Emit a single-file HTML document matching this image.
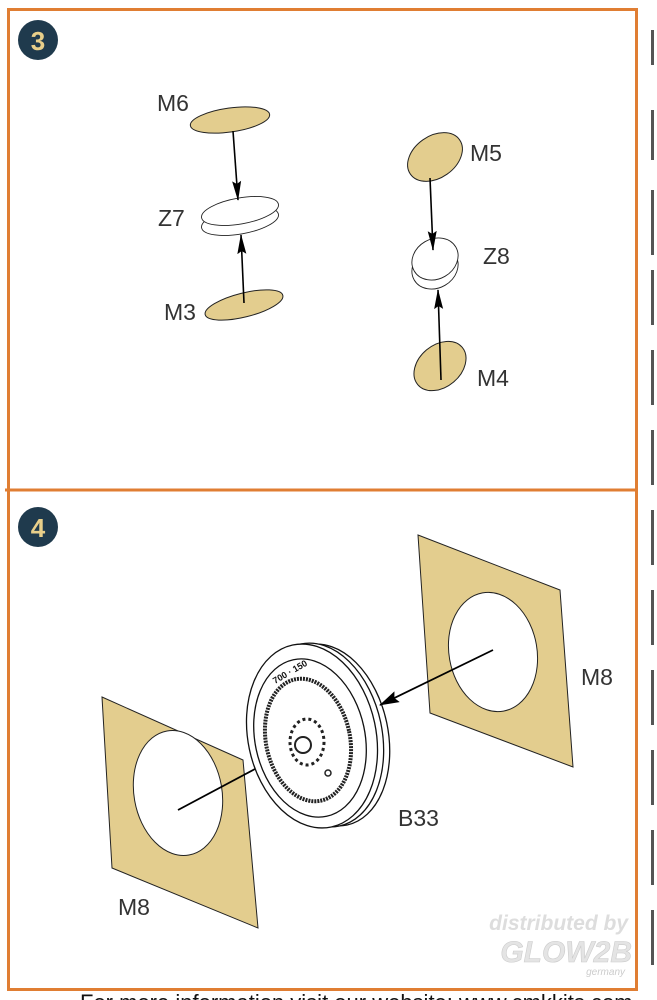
<!DOCTYPE html>
<html><head><style>
html,body{margin:0;padding:0;background:#fff;width:657px;height:1000px;overflow:hidden;}
svg{display:block;}
text{font-family:"Liberation Sans Narrow","Liberation Sans",sans-serif;}
</style></head><body>
<svg width="657" height="1000" viewBox="0 0 657 1000">
<defs>
<marker id="ah" markerWidth="20" markerHeight="10" refX="19" refY="5" orient="auto" markerUnits="userSpaceOnUse">
<path d="M0,0.5 L20,5 L0,9.5 L3,5 Z" fill="#000"/></marker>
<marker id="ah2" markerWidth="20" markerHeight="12" refX="19" refY="6" orient="auto" markerUnits="userSpaceOnUse">
<path d="M0,0 L20,6 L0,12 L3,6 Z" fill="#000"/></marker>
</defs>
<g fill="#555">
<rect x="651" y="30" width="3" height="35"/><rect x="651" y="110" width="3" height="50"/>
<rect x="651" y="190" width="3" height="65"/><rect x="651" y="270" width="3" height="55"/>
<rect x="651" y="350" width="3" height="55"/><rect x="651" y="430" width="3" height="55"/>
<rect x="651" y="510" width="3" height="55"/><rect x="651" y="590" width="3" height="55"/>
<rect x="651" y="670" width="3" height="55"/><rect x="651" y="750" width="3" height="55"/>
<rect x="651" y="830" width="3" height="55"/><rect x="651" y="910" width="3" height="55"/>
</g>
<rect x="8.5" y="9.5" width="628" height="980" fill="none" stroke="#e07e33" stroke-width="3"/>
<line x1="5" y1="490" x2="636" y2="490" stroke="#e07e33" stroke-width="3"/>
<circle cx="38" cy="40" r="20" fill="#1f3a4d"/>
<text x="38" y="50" font-size="26" font-weight="bold" fill="#e8cf8a" text-anchor="middle">3</text>
<circle cx="38" cy="527" r="20" fill="#1f3a4d"/>
<text x="38" y="537" font-size="26" font-weight="bold" fill="#e8cf8a" text-anchor="middle">4</text>

<g stroke="#222" stroke-width="1" fill="#e3cd8e">
<ellipse cx="230" cy="120" rx="40" ry="12" transform="rotate(-8 230 120)"/>
<ellipse cx="435" cy="157" rx="30" ry="21" transform="rotate(-35 435 157)"/>
<ellipse cx="244" cy="305" rx="40" ry="12" transform="rotate(-14 244 305)"/>
<ellipse cx="440" cy="366" rx="29" ry="21" transform="rotate(-40 440 366)"/>
</g>
<g stroke="#222" stroke-width="0.9" fill="#fff">
<ellipse cx="240" cy="221" rx="39" ry="13" transform="rotate(-10 240 221)"/>
<ellipse cx="240" cy="211" rx="39" ry="13" transform="rotate(-10 240 211)"/>
<ellipse cx="348" cy="0" rx="0" ry="0"/>
<ellipse cx="348" cy="268" rx="0" ry="0"/>
<ellipse cx="348" cy="0" rx="0" ry="0"/>
<ellipse cx="348" cy="0" rx="0" ry="0"/>
<ellipse cx="348" cy="0" rx="0" ry="0"/>
<ellipse cx="348" cy="0" rx="0" ry="0"/>
<ellipse cx="348" cy="0" rx="0" ry="0"/>
<ellipse cx="435" cy="268" rx="24" ry="20" transform="rotate(-30 435 268)"/>
<ellipse cx="435" cy="259" rx="24" ry="20" transform="rotate(-30 435 259)"/>
</g>
<g stroke="#000" stroke-width="1.6">
<line x1="233" y1="131" x2="238" y2="200" marker-end="url(#ah)"/>
<line x1="244" y1="303" x2="241" y2="235" marker-end="url(#ah)"/>
<line x1="430" y1="178" x2="433" y2="250" marker-end="url(#ah)"/>
<line x1="441" y1="380" x2="438" y2="290" marker-end="url(#ah)"/>
</g>
<g font-size="23" fill="#333">
<text x="157" y="111">M6</text><text x="470" y="161">M5</text>
<text x="158" y="226">Z7</text><text x="483" y="264">Z8</text>
<text x="164" y="320">M3</text><text x="477" y="386">M4</text>
</g>

<path d="M418,535 L560,590 L573,767 L430,713 Z" fill="#e3cd8e" stroke="#222" stroke-width="1"/>
<ellipse cx="493" cy="652" rx="44" ry="60" transform="rotate(-10 493 652)" fill="#fff" stroke="#222" stroke-width="1"/>
<path d="M102,697 L243,760 L258,928 L112,868 Z" fill="#e3cd8e" stroke="#222" stroke-width="1"/>
<ellipse cx="178" cy="793" rx="44" ry="63" transform="rotate(-10 178 793)" fill="#fff" stroke="#222" stroke-width="1"/>
<line x1="178" y1="810" x2="300" y2="745" stroke="#000" stroke-width="1.8" marker-end="url(#ah2)"/>

<g fill="#fff" stroke="#111" stroke-width="1.3">
<ellipse cx="328" cy="735" rx="60" ry="92" transform="rotate(-12 328 735)"/>
<ellipse cx="320" cy="735" rx="62" ry="93" transform="rotate(-12 320 735)"/>
<ellipse cx="312" cy="736" rx="64" ry="93" transform="rotate(-12 312 736)"/>
<ellipse cx="310" cy="738" rx="55" ry="80" transform="rotate(-12 310 738)" fill="none"/>
</g>
<ellipse cx="308" cy="740" rx="42" ry="62" transform="rotate(-12 308 740)" fill="none" stroke="#222" stroke-width="4" stroke-dasharray="2 1"/>
<ellipse cx="307" cy="742" rx="17" ry="23" fill="none" stroke="#222" stroke-width="3" stroke-dasharray="3 3"/>
<circle cx="303" cy="745" r="8" fill="none" stroke="#222" stroke-width="2"/>
<circle cx="328" cy="773" r="3" fill="none" stroke="#222" stroke-width="1.5"/>
<text x="275" y="684" font-size="9" font-weight="bold" fill="#111" transform="rotate(-30 275 684)">700 · 150</text>
<line x1="493" y1="650" x2="380" y2="705" stroke="#000" stroke-width="1.8" marker-end="url(#ah2)"/>

<g font-size="23" fill="#333">
<text x="581" y="685">M8</text><text x="398" y="826">B33</text><text x="118" y="915">M8</text>
</g>
<text x="628" y="930" font-size="21" font-style="italic" font-weight="bold" fill="#ddd" text-anchor="end">distributed by</text>
<text x="632" y="962" font-size="30" font-style="italic" font-weight="bold" fill="#e4e4e4" stroke="#ccc" stroke-width="0.6" text-anchor="end">GLOW2B</text>
<text x="625" y="975" font-size="10" font-style="italic" fill="#ccc" text-anchor="end">germany</text>
<text x="80" y="1010" font-size="22" fill="#111">For more information visit our website: www.cmkkits.com</text>
</svg>
</body></html>
